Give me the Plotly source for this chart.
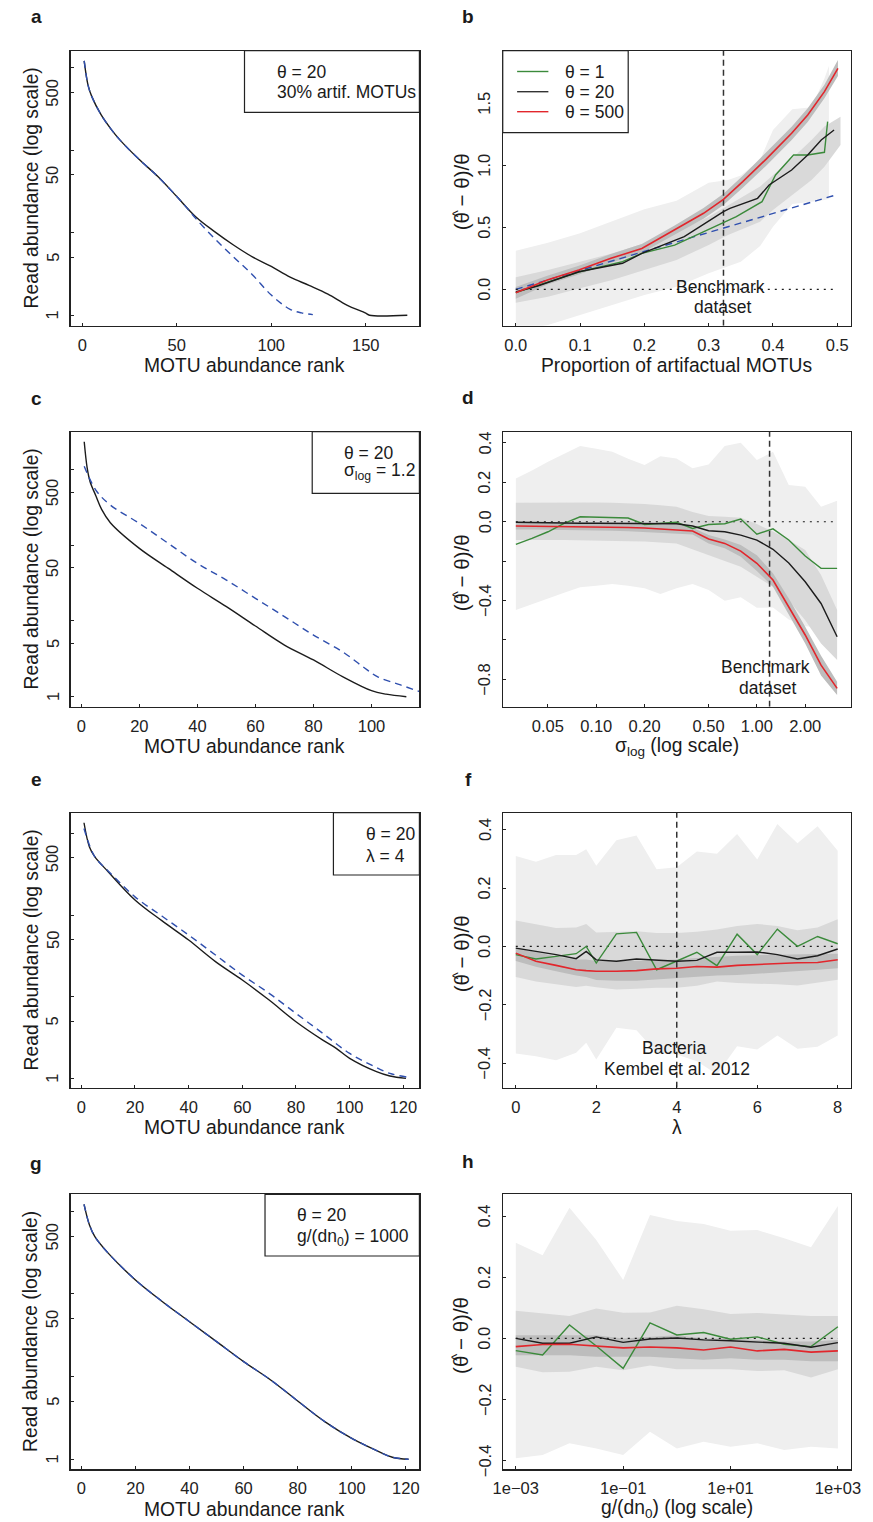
import math
import plotly.graph_objects as go

W, H = 873, 1522
FONT = "Liberation Sans, Arial, Helvetica, sans-serif"

# ---------------- data ----------------
# panel a : rank-abundance (theta=20, 30% artifactual MOTUs)
A_RANK_OBS = [1, 3, 5, 10, 15, 20, 30, 40, 50, 60, 70, 80, 90, 100, 110, 120, 130, 140, 150, 152, 172]
A_ABUND_OBS = [1200, 617, 447, 266, 182, 132, 77.4, 47.8, 27.4, 15.6, 10.3, 7.1, 5.1, 3.9, 2.9, 2.3, 1.8, 1.33, 1.06, 1.0, 1.0]
A_RANK_TRUE = [1, 3, 5, 10, 15, 20, 30, 40, 50, 55, 60, 70, 80, 90, 100, 110, 116, 122]
A_ABUND_TRUE = [1200, 617, 447, 266, 182, 132, 77.4, 47.8, 27.4, 20.4, 14.9, 8.5, 5.1, 3.1, 1.76, 1.18, 1.07, 1.02]

# panel b : bias vs proportion of artifactual MOTUs
B_X_RED = [0, 0.049, 0.098, 0.148, 0.196, 0.247, 0.292, 0.323, 0.353, 0.389, 0.429, 0.454, 0.48, 0.501]
B_RED = [-0.027, 0.075, 0.156, 0.25, 0.33, 0.478, 0.613, 0.726, 0.868, 1.048, 1.258, 1.406, 1.594, 1.782]
B_RED_UP = [0.02, 0.11, 0.19, 0.285, 0.365, 0.515, 0.655, 0.77, 0.915, 1.1, 1.31, 1.46, 1.65, 1.85]
B_RED_LO = [-0.075, 0.04, 0.12, 0.215, 0.295, 0.44, 0.57, 0.68, 0.82, 0.995, 1.205, 1.35, 1.54, 1.72]
B_X_BLACK = [0, 0.034, 0.098, 0.166, 0.196, 0.262, 0.323, 0.333, 0.376, 0.394, 0.429, 0.454, 0.475, 0.495]
B_BLACK = [-0.02, 0.027, 0.142, 0.21, 0.29, 0.425, 0.626, 0.653, 0.734, 0.841, 0.962, 1.083, 1.204, 1.285]
B_X_GREEN = [0, 0.098, 0.166, 0.196, 0.247, 0.287, 0.323, 0.343, 0.383, 0.404, 0.432, 0.454, 0.48, 0.485]
B_GREEN = [-0.027, 0.14, 0.223, 0.29, 0.357, 0.452, 0.538, 0.586, 0.707, 0.922, 1.083, 1.083, 1.105, 1.352]
B_X_BAND1 = [0, 0.05, 0.1, 0.15, 0.2, 0.25, 0.3, 0.33, 0.35, 0.38, 0.4, 0.43, 0.46, 0.48, 0.487]
B_BAND1_UP = [0.312, 0.376, 0.452, 0.546, 0.645, 0.715, 0.86, 0.882, 0.917, 1.043, 1.285, 1.452, 1.468, 1.70, 1.80]
B_BAND1_LO = [-0.33, -0.288, -0.207, -0.126, -0.046, 0.022, 0.129, 0.183, 0.223, 0.349, 0.505, 0.688, 0.707, 0.72, 0.73]
B_X_BAND20 = [0, 0.05, 0.1, 0.15, 0.2, 0.25, 0.3, 0.33, 0.35, 0.38, 0.4, 0.43, 0.46, 0.48, 0.505]
B_BAND20_UP = [0.097, 0.156, 0.223, 0.29, 0.371, 0.465, 0.586, 0.68, 0.74, 0.83, 0.92, 1.056, 1.204, 1.312, 1.392]
B_BAND20_LO = [-0.108, -0.059, 0.008, 0.075, 0.156, 0.237, 0.358, 0.438, 0.478, 0.546, 0.64, 0.761, 0.882, 0.989, 1.164]
B_EXPECTED_X = [0, 0.501]
B_EXPECTED_Y = [0, 0.766]
B_BENCHMARK = 0.323

# panel c : rank-abundance (theta=20, sigma_log=1.2)
C_RANK_OBS = [1, 2, 3, 5, 7, 10, 20, 30, 40, 50, 60, 70, 80, 90, 100, 105, 112]
C_ABUND_OBS = [2300, 1050, 690, 447, 295, 197, 90.4, 49.2, 26.9, 15.4, 8.55, 4.8, 3.05, 1.84, 1.2, 1.08, 1.0]
C_RANK_TRUE = [1, 5, 10, 20, 30, 40, 50, 60, 70, 80, 90, 97, 102, 110, 120]
C_ABUND_TRUE = [1096, 531, 337, 193, 105, 57.3, 34.5, 19.8, 11.4, 6.5, 3.92, 2.49, 1.84, 1.43, 1.05]

# panel d : bias vs sigma_log
D_SIGMA = [0.0316, 0.0398, 0.0501, 0.0631, 0.0794, 0.1, 0.126, 0.158, 0.2, 0.251, 0.316,
           0.398, 0.501, 0.631, 0.794, 1.0, 1.26, 1.58, 2.0, 2.51, 3.16]
D_GREEN = [-0.115, -0.085, -0.051, -0.008, 0.025, 0.024, 0.022, 0.019, -0.014, -0.008, -0.003,
           -0.034, -0.014, -0.010, 0.014, -0.063, -0.036, -0.093, -0.174, -0.237, -0.237]
D_BLACK = [-0.003, -0.005, -0.006, -0.007, -0.008, -0.008, -0.008, -0.008, -0.008, -0.008, -0.01,
           -0.022, -0.046, -0.051, -0.068, -0.093, -0.14, -0.21, -0.305, -0.415, -0.584]
D_RED = [-0.022, -0.023, -0.023, -0.024, -0.024, -0.024, -0.025, -0.029, -0.032, -0.037, -0.042,
         -0.047, -0.088, -0.11, -0.149, -0.211, -0.296, -0.431, -0.575, -0.728, -0.846]
D_BAND1_UP = [0.22, 0.26, 0.305, 0.345, 0.384, 0.37, 0.355, 0.32, 0.288, 0.333, 0.321,
              0.271, 0.291, 0.384, 0.401, 0.313, 0.355, 0.186, 0.178, 0.076, 0.107]
D_BAND1_LO = [-0.448, -0.42, -0.389, -0.36, -0.333, -0.325, -0.316, -0.325, -0.338, -0.367, -0.338,
              -0.316, -0.347, -0.401, -0.384, -0.437, -0.435, -0.496, -0.53, -0.536, -0.541]
D_BAND20_UP = [0.096, 0.097, 0.098, 0.099, 0.1, 0.098, 0.096, 0.093, 0.09, 0.083, 0.076,
               0.05, 0.029, 0.025, 0.02, -0.012, -0.05, -0.093, -0.144, -0.271, -0.448]
D_BAND20_LO = [-0.093, -0.093, -0.093, -0.093, -0.093, -0.095, -0.097, -0.099, -0.1, -0.105, -0.11,
               -0.14, -0.17, -0.2, -0.228, -0.28, -0.33, -0.4, -0.5, -0.618, -0.702]
D_BAND500_UP = [-0.005, -0.005, -0.006, -0.006, -0.007, -0.007, -0.008, -0.008, -0.009, -0.009, -0.01,
                -0.03, -0.068, -0.09, -0.118, -0.17, -0.262, -0.39, -0.533, -0.68, -0.812]
D_BAND500_LO = [-0.039, -0.04, -0.041, -0.042, -0.043, -0.044, -0.046, -0.048, -0.05, -0.055, -0.06,
                -0.065, -0.11, -0.135, -0.178, -0.25, -0.33, -0.47, -0.618, -0.78, -0.88]
D_BENCHMARK = 1.2

# panel e : rank-abundance (theta=20, lambda=4)
E_RANK_OBS = [1, 3, 5, 10, 20, 30, 40, 50, 60, 70, 80, 90, 95, 100, 110, 115, 121]
E_ABUND_OBS = [1349, 687, 518, 339, 153, 85.3, 49.4, 26.9, 16.0, 9.1, 4.94, 2.94, 2.33, 1.76, 1.21, 1.07, 1.0]
E_RANK_TRUE = [1, 5, 10, 20, 30, 40, 50, 60, 70, 80, 90, 100, 108, 115, 122]
E_ABUND_TRUE = [1148, 518, 347, 167, 97.3, 56.9, 32.4, 18.4, 11.0, 6.25, 3.56, 2.02, 1.46, 1.15, 1.03]

# panel f : bias vs lambda
F_LAMBDA = [0, 0.5, 1, 1.5, 1.75, 2, 2.5, 3, 3.5, 4, 4.5, 5, 5.5, 6, 6.5, 7, 7.5, 8]
F_GREEN = [-0.028, -0.043, -0.034, -0.025, 0.0, -0.057, 0.043, 0.048, -0.08, -0.05, -0.02, -0.066,
           0.042, -0.028, 0.059, 0.0, 0.034, 0.009]
F_BLACK = [-0.006, -0.017, -0.028, -0.042, -0.017, -0.046, -0.051, -0.043, -0.046, -0.051, -0.048,
           -0.02, -0.02, -0.019, -0.028, -0.043, -0.032, -0.009]
F_RED = [-0.023, -0.051, -0.065, -0.08, -0.083, -0.085, -0.085, -0.083, -0.077, -0.075, -0.069,
         -0.071, -0.065, -0.062, -0.057, -0.056, -0.055, -0.046]
F_BAND1_UP = [0.31, 0.29, 0.313, 0.313, 0.333, 0.276, 0.364, 0.38, 0.264, 0.271, 0.325, 0.317,
              0.385, 0.298, 0.419, 0.353, 0.412, 0.328]
F_BAND1_LO = [-0.367, -0.376, -0.39, -0.364, -0.33, -0.387, -0.279, -0.287, -0.364, -0.37, -0.393,
              -0.438, -0.342, -0.353, -0.305, -0.351, -0.344, -0.305]
F_BAND20_UP = [0.089, 0.075, 0.063, 0.065, 0.077, 0.048, 0.05, 0.052, 0.046, 0.046, 0.05, 0.058,
               0.07, 0.077, 0.07, 0.055, 0.065, 0.093]
F_BAND20_LO = [-0.105, -0.12, -0.13, -0.139, -0.135, -0.14, -0.148, -0.145, -0.142, -0.142, -0.135,
               -0.12, -0.125, -0.128, -0.13, -0.134, -0.125, -0.114]
F_BAND500_UP = [-0.005, -0.02, -0.035, -0.045, -0.045, -0.05, -0.05, -0.05, -0.047, -0.045, -0.04,
                -0.035, -0.032, -0.03, -0.028, -0.027, -0.026, -0.025]
F_BAND500_LO = [-0.05, -0.07, -0.085, -0.1, -0.105, -0.115, -0.118, -0.118, -0.115, -0.11, -0.105,
                -0.1, -0.098, -0.095, -0.09, -0.085, -0.08, -0.075]
F_REFERENCE = 4

# panel g : rank-abundance (theta=20, g/(dn0)=1000)
G_RANK = [1, 3, 5, 10, 20, 30, 40, 50, 60, 70, 80, 90, 100, 110, 115, 121]
G_ABUND_OBS = [1216, 684, 494, 310, 148, 80.7, 46.2, 26.5, 15.2, 9.12, 5.08, 2.86, 1.79, 1.24, 1.06, 1.0]
G_ABUND_TRUE = [1216, 684, 494, 310, 148, 80.7, 46.2, 26.5, 15.2, 9.12, 5.08, 2.86, 1.79, 1.24, 1.06, 1.0]

# panel h : bias vs g/(dn0)
H_G = [0.001, 0.00316, 0.01, 0.0316, 0.1, 0.316, 1, 3.16, 10, 31.6, 100, 316, 1000]
H_GREEN = [-0.04, -0.054, 0.044, -0.025, -0.098, 0.051, 0.011, 0.019, -0.003, 0.005, -0.019, -0.027, 0.038]
H_BLACK = [0.0, -0.016, -0.016, 0.005, -0.013, -0.002, 0.001, -0.005, -0.008, -0.011, -0.016, -0.029, -0.014]
H_RED = [-0.027, -0.02, -0.019, -0.024, -0.031, -0.028, -0.031, -0.038, -0.028, -0.041, -0.036, -0.045, -0.041]
H_BAND1_UP = [0.313, 0.272, 0.427, 0.322, 0.191, 0.403, 0.384, 0.374, 0.352, 0.354, 0.327, 0.298, 0.433]
H_BAND1_LO = [-0.392, -0.381, -0.343, -0.36, -0.381, -0.305, -0.36, -0.338, -0.354, -0.343, -0.365, -0.354, -0.36]
H_BAND20_UP = [0.09, 0.082, 0.073, 0.098, 0.084, 0.085, 0.107, 0.095, 0.08, 0.083, 0.078, 0.073, 0.073]
H_BAND20_LO = [-0.093, -0.111, -0.109, -0.093, -0.104, -0.089, -0.101, -0.101, -0.101, -0.107, -0.104, -0.128, -0.101]
H_BAND500_UP = [0.01, 0.01, 0.01, 0.01, 0.0, 0.005, 0.01, 0.0, 0.0, -0.005, -0.01, -0.01, -0.005]
H_BAND500_LO = [-0.055, -0.055, -0.055, -0.06, -0.06, -0.06, -0.065, -0.07, -0.065, -0.07, -0.07, -0.075, -0.075]

# tick labels
ABUND_TICKS = [1, 5, 10, 50, 100, 500, 1000]
ABUND_TICKTEXT = ["1", "5", "", "50", "", "500", ""]
B_YTICKS = [0.0, 0.5, 1.0, 1.5]
B_YTICKTEXT = ["0.0", "0.5", "1.0", "1.5"]
D_XTICKS = [0.05, 0.1, 0.2, 0.5, 1.0, 2.0]
D_XTICKTEXT = ["0.05", "0.10", "0.20", "0.50", "1.00", "2.00"]
D_YTICKS = [0.4, 0.2, 0.0, -0.2, -0.4, -0.6, -0.8]
D_YTICKTEXT = ["0.4", "0.2", "0.0", "", "\u22120.4", "", "\u22120.8"]
FH_YTICKS = [0.4, 0.2, 0.0, -0.2, -0.4]
FH_YTICKTEXT = ["0.4", "0.2", "0.0", "\u22120.2", "\u22120.4"]
H_XTICKS = [0.001, 0.1, 10, 1000]
H_XTICKTEXT = ["1e\u221203", "1e\u221201", "1e+01", "1e+03"]

# ---------------- style ----------------
C_GREEN = "#3b8a3b"
C_BLACK = "#1c1c1c"
C_RED = "#e2262c"
C_BLUE = "#2f4fae"
C_LIGHT = "#efefef"
C_MID = "#d9d9d9"
C_DARK = "#bdbdbd"
LW = 1.4
TICK_SIZE = 16.5
TITLE_SIZE = 19.3


def PX(p):
    return p / W


def PY(p):
    return 1 - p / H


LEFT = (62, 419)
RIGHT = (504.3, 860.7)
TOPS = [50.7, 431.7, 812.7, 1194.3]
BOX_H = 275

fig = go.Figure()
layout = dict(
    width=W, height=H, margin=dict(l=0, r=0, t=0, b=0),
    paper_bgcolor="white", plot_bgcolor="white", showlegend=False,
    font=dict(family=FONT, color="#1a1a1a", size=16),
)
annotations = []
shapes = []


def ax_names(i):
    return ("x" if i == 1 else f"x{i}", "y" if i == 1 else f"y{i}")


def setup(i, xtype, xrange, xtv, xtt, ytype, yrange, ytv, ytt):
    row, col = (i - 1) // 2, (i - 1) % 2
    l, r = LEFT if col == 0 else RIGHT
    top = TOPS[row]
    xn, yn = ax_names(i)
    common = dict(ticks="inside", ticklen=3, tickwidth=1, tickcolor="#222",
                  showline=True, mirror=True, linecolor="#222", linewidth=1.2,
                  showgrid=False, zeroline=False,
                  tickfont=dict(size=TICK_SIZE, family=FONT, color="#222"))
    layout["xaxis" if i == 1 else f"xaxis{i}"] = dict(
        domain=[PX(l), PX(r)], anchor=yn, type=xtype, range=xrange,
        tickmode="array", tickvals=xtv, ticktext=xtt, ticklabelstandoff=4, **common)
    layout["yaxis" if i == 1 else f"yaxis{i}"] = dict(
        domain=[PY(top + BOX_H), PY(top)], anchor=xn, type=ytype, range=yrange,
        tickmode="array", tickvals=ytv, ticktext=[""] * len(ytv), **common)
    # rotated y tick labels (R style, parallel to the axis)
    for v, t in zip(ytv, ytt):
        if not t:
            continue
        annotations.append(dict(xref="paper", yref=yn, x=PX(l - 18.7),
                                y=(math.log10(v) if ytype == "log" else v), text=t,
                                showarrow=False, xanchor="center", yanchor="middle", textangle=-90,
                                font=dict(size=TICK_SIZE, family=FONT, color="#222")))
    return xn, yn


def line(i, x, y, color, dash="solid", width=LW, shape="linear"):
    xn, yn = ax_names(i)
    fig.add_trace(go.Scatter(x=x, y=y, mode="lines", xaxis=xn, yaxis=yn, hoverinfo="skip",
                             line=dict(color=color, width=width, dash=dash, shape=shape)))


def band(i, x, up, lo, color):
    xn, yn = ax_names(i)
    fig.add_trace(go.Scatter(x=list(x) + list(x)[::-1], y=list(up) + list(lo)[::-1],
                             mode="lines", fill="toself", fillcolor=color, line=dict(width=0, color=color),
                             xaxis=xn, yaxis=yn, hoverinfo="skip"))


def text(x, y, s, size=17.5, xanchor="center", angle=0, bold=False):
    annotations.append(dict(xref="paper", yref="paper", x=PX(x), y=PY(y), text=(f"<b>{s}</b>" if bold else s),
                            showarrow=False, xanchor=xanchor, yanchor="middle", textangle=angle,
                            font=dict(size=size, family=FONT, color="#1a1a1a")))


def rect(x0, y0, x1, y1):
    shapes.append(dict(type="rect", xref="paper", yref="paper", x0=PX(x0), x1=PX(x1), y0=PY(y1), y1=PY(y0),
                       line=dict(color="#222", width=1.2), fillcolor="white", layer="above"))


DASH_V = "6px,4px"
DOT_H = "2px,5px"
DASH_BLUE = "7px,5px"

# ---------- panel a ----------
setup(1, "linear", [-6.2, 178.4], [0, 50, 100, 150], ["0", "50", "100", "150"],
      "log", [-0.126, 3.203], ABUND_TICKS, ABUND_TICKTEXT)
line(1, A_RANK_OBS, A_ABUND_OBS, C_BLACK, shape="spline")
line(1, A_RANK_TRUE, A_ABUND_TRUE, C_BLUE, dash=DASH_BLUE, shape="spline")

# ---------- panel b ----------
setup(2, "linear", [-0.0203, 0.5213], [0, 0.1, 0.2, 0.3, 0.4, 0.5], ["0.0", "0.1", "0.2", "0.3", "0.4", "0.5"],
      "linear", [-0.293, 1.924], B_YTICKS, B_YTICKTEXT)
band(2, B_X_BAND1, B_BAND1_UP, B_BAND1_LO, C_LIGHT)
band(2, B_X_BAND20, B_BAND20_UP, B_BAND20_LO, C_MID)
band(2, B_X_RED, B_RED_UP, B_RED_LO, C_DARK)
line(2, B_EXPECTED_X, B_EXPECTED_Y, C_BLUE, dash=DASH_BLUE)
line(2, [0, 0.5], [0, 0], C_BLACK, dash=DOT_H, width=1.2)
line(2, [B_BENCHMARK, B_BENCHMARK], [-0.293, 1.924], "#333", dash=DASH_V, width=1.5)
line(2, B_X_GREEN, B_GREEN, C_GREEN)
line(2, B_X_BLACK, B_BLACK, C_BLACK)
line(2, B_X_RED, B_RED, C_RED, width=1.6)

# ---------- panel c ----------
setup(3, "linear", [-3.7, 116.5], [0, 20, 40, 60, 80, 100], ["0", "20", "40", "60", "80", "100"],
      "log", [-0.132, 3.495], ABUND_TICKS, ABUND_TICKTEXT)
line(3, C_RANK_OBS, C_ABUND_OBS, C_BLACK, shape="spline")
line(3, C_RANK_TRUE, C_ABUND_TRUE, C_BLUE, dash=DASH_BLUE, shape="spline")

# ---------- panel d ----------
setup(4, "log", [-1.582, 0.586], D_XTICKS, D_XTICKTEXT,
      "linear", [-0.939, 0.457], D_YTICKS, D_YTICKTEXT)
band(4, D_SIGMA, D_BAND1_UP, D_BAND1_LO, C_LIGHT)
band(4, D_SIGMA, D_BAND20_UP, D_BAND20_LO, C_MID)
band(4, D_SIGMA, D_BAND500_UP, D_BAND500_LO, C_DARK)
line(4, [D_SIGMA[0], D_SIGMA[-1]], [0, 0], C_BLACK, dash=DOT_H, width=1.2)
line(4, [D_BENCHMARK, D_BENCHMARK], [-0.939, 0.457], "#333", dash=DASH_V, width=1.5)
line(4, D_SIGMA, D_GREEN, C_GREEN)
line(4, D_SIGMA, D_BLACK, C_BLACK)
line(4, D_SIGMA, D_RED, C_RED, width=1.6)

# ---------- panel e ----------
setup(5, "linear", [-4.0, 126.0], [0, 20, 40, 60, 80, 100, 120], ["0", "20", "40", "60", "80", "100", "120"],
      "log", [-0.114, 3.253], ABUND_TICKS, ABUND_TICKTEXT)
line(5, E_RANK_OBS, E_ABUND_OBS, C_BLACK, shape="spline")
line(5, E_RANK_TRUE, E_ABUND_TRUE, C_BLUE, dash=DASH_BLUE, shape="spline")

# ---------- panel f ----------
setup(6, "linear", [-0.324, 8.33], [0, 2, 4, 6, 8], ["0", "2", "4", "6", "8"],
      "linear", [-0.484, 0.458], FH_YTICKS, FH_YTICKTEXT)
band(6, F_LAMBDA, F_BAND1_UP, F_BAND1_LO, C_LIGHT)
band(6, F_LAMBDA, F_BAND20_UP, F_BAND20_LO, C_MID)
band(6, F_LAMBDA, F_BAND500_UP, F_BAND500_LO, C_DARK)
line(6, [F_LAMBDA[0], F_LAMBDA[-1]], [0, 0], C_BLACK, dash=DOT_H, width=1.2)
line(6, [F_REFERENCE, F_REFERENCE], [-0.484, 0.458], "#333", dash=DASH_V, width=1.5)
line(6, F_LAMBDA, F_GREEN, C_GREEN)
line(6, F_LAMBDA, F_BLACK, C_BLACK)
line(6, F_LAMBDA, F_RED, C_RED, width=1.6)

# ---------- panel g ----------
setup(7, "linear", [-3.98, 125.0], [0, 20, 40, 60, 80, 100, 120], ["0", "20", "40", "60", "80", "100", "120"],
      "log", [-0.121, 3.206], ABUND_TICKS, ABUND_TICKTEXT)
line(7, G_RANK, G_ABUND_OBS, C_BLACK, shape="spline")
line(7, G_RANK, G_ABUND_TRUE, C_BLUE, dash=DASH_BLUE, shape="spline")

# ---------- panel h ----------
setup(8, "log", [-3.243, 3.244], H_XTICKS, H_XTICKTEXT,
      "linear", [-0.428, 0.471], FH_YTICKS, FH_YTICKTEXT)
band(8, H_G, H_BAND1_UP, H_BAND1_LO, C_LIGHT)
band(8, H_G, H_BAND20_UP, H_BAND20_LO, C_MID)
band(8, H_G, H_BAND500_UP, H_BAND500_LO, C_DARK)
line(8, [H_G[0], H_G[-1]], [0, 0], C_BLACK, dash=DOT_H, width=1.2)
line(8, H_G, H_GREEN, C_GREEN)
line(8, H_G, H_BLACK, C_BLACK)
line(8, H_G, H_RED, C_RED, width=1.6)

# ---------- texts ----------
YLAB_RIGHT = "(\u03b8 \u2212 \u03b8)/\u03b8"
for r, top in enumerate(TOPS):
    cy = top + BOX_H / 2
    text(21.7, cy, "Read abundance (log scale)", size=TITLE_SIZE, angle=-90)
    text(461.7, cy + 4, YLAB_RIGHT, size=20.5, angle=-90)
    text(457.5, cy + 26, "^", size=15, angle=-90)

xt_off = 40
for top in TOPS:
    text(240.5, top + BOX_H + xt_off, "MOTU abundance rank", size=TITLE_SIZE)
text(682.5, TOPS[0] + BOX_H + xt_off, "Proportion of artifactual MOTUs", size=TITLE_SIZE)
text(682.5, TOPS[1] + BOX_H + xt_off, "\u03c3<sub>log</sub> (log scale)", size=TITLE_SIZE)
text(682.5, TOPS[2] + BOX_H + xt_off, "\u03bb", size=TITLE_SIZE)
text(682.5, TOPS[3] + BOX_H + xt_off, "g/(dn<sub>0</sub>) (log scale)", size=TITLE_SIZE)

for lab, x, y in [("a", 27, 17), ("b", 469, 17), ("c", 27, 398), ("d", 469, 397),
                  ("e", 27, 779), ("f", 469, 779), ("g", 27, 1163), ("h", 469, 1161)]:
    text(x, y, lab, size=19, bold=True)

# info boxes (left panels)
rect(240, 50.7, 419, 112.3)
text(271, 72, "\u03b8 = 20", xanchor="left")
text(271, 92, "30% artif. MOTUs", xanchor="left")
rect(309.3, 431.7, 419, 493.3)
text(340, 452.7, "\u03b8 = 20", xanchor="left")
text(340, 471.5, "\u03c3<sub>log</sub> = 1.2", xanchor="left")
rect(331, 812.7, 419, 875)
text(362.3, 834, "\u03b8 = 20", xanchor="left")
text(362.3, 856, "\u03bb = 4", xanchor="left")
rect(261, 1194.3, 419, 1256)
text(291.7, 1215.3, "\u03b8 = 20", xanchor="left")
text(291.7, 1237, "g/(dn<sub>0</sub>) = 1000", xanchor="left")

# legend (panel b)
rect(504.3, 50.7, 632.7, 132.7)
for yy, col, lab in [(71.5, C_GREEN, "\u03b8 = 1"), (91.7, "#333", "\u03b8 = 20"), (111.7, C_RED, "\u03b8 = 500")]:
    shapes.append(dict(type="line", xref="paper", yref="paper", x0=PX(519), x1=PX(551), y0=PY(yy), y1=PY(yy),
                       line=dict(color=col, width=1.4), layer="above"))
    text(565.7, yy, lab, xanchor="left")

# reference annotations
text(727.2, 286.7, "Benchmark")
text(730, 306.7, "dataset")
text(773.3, 667, "Benchmark")
text(776, 688, "dataset")
text(680, 1048.3, "Bacteria")
text(682.5, 1069.3, "Kembel et al. 2012")

layout["annotations"] = annotations
layout["shapes"] = shapes
fig.update_layout(**layout)
fig.write_html("out.html", config={"displayModeBar": False, "staticPlot": True},
               post_script="document.body.style.margin='0';document.body.style.overflow='hidden';")
